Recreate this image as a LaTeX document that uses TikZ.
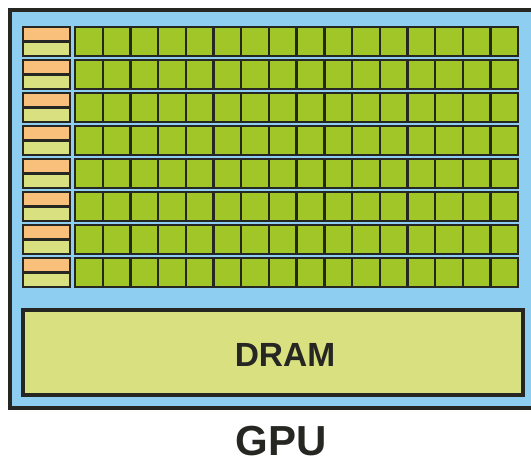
\documentclass[tikz,border=0pt]{standalone}
\usepackage{fontspec}
\setmainfont{Liberation Sans}
\definecolor{gpublue}{RGB}{142,206,240}
\definecolor{coregreen}{RGB}{160,198,40}
\definecolor{ctrlorange}{RGB}{248,192,122}
\definecolor{cachegreen}{RGB}{216,224,128}
\definecolor{edge}{RGB}{38,38,34}

\begin{document}
\begin{tikzpicture}[x=1pt,y=-1pt]
\tikzset{core/.style={draw=edge,line width=2.4pt,fill=coregreen},ctrl/.style={draw=edge,line width=2.4pt}}
\useasboundingbox (0,0) rectangle (531,460);
\begin{scope}
\clip (0,0) rectangle (531,460);
\draw[draw=edge,line width=4pt,fill=gpublue] (10,10) rectangle (545,408);
\end{scope}
% rows of cores, each with its control and cache block
\foreach \r in {0,...,7}{\pgfmathsetmacro{\t}{27+33*\r}
\fill[ctrlorange] (23,\t) rectangle (70,\t+14.5);\fill[cachegreen] (23,\t+14.5) rectangle (70,\t+29);
\draw[ctrl] (23,\t+14.5)--(70,\t+14.5);\draw[ctrl] (23,\t) rectangle (70,\t+29);
\foreach \c in {0,...,15}{\draw[core] (75+27.7*\c,\t) rectangle (75+27.7*\c+27.7,\t+29);}}
\node[draw=edge,line width=4.5pt,fill=cachegreen,minimum width=500pt,minimum height=85pt,inner sep=0pt] (dram) at (273,352.5) {};
\node[font=\fontsize{33.5}{37}\selectfont\bfseries,text=edge,inner sep=0pt,anchor=base] (dramtext) at (285,366.5) {DRAM};
\node[font=\fontsize{42}{46}\selectfont\bfseries,text=edge,inner sep=0pt,anchor=base] (gpu) at (281,455.5) {GPU};
\end{tikzpicture}
\end{document}
